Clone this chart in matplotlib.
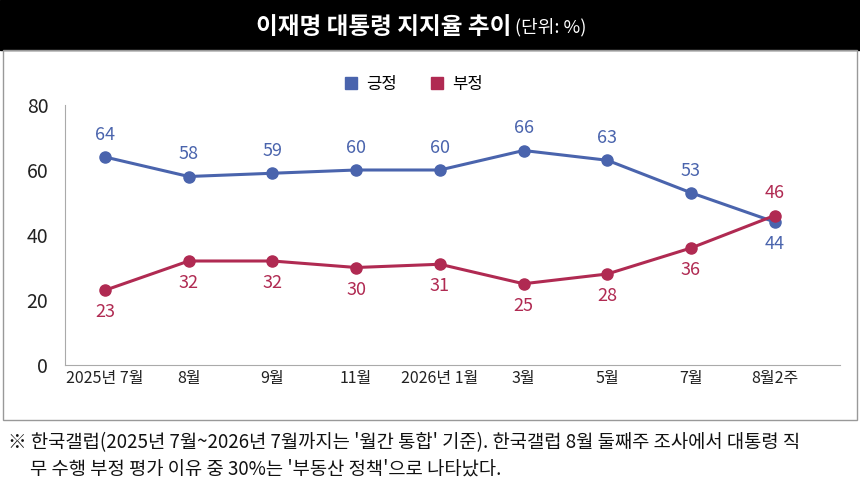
import matplotlib
matplotlib.use("Agg")
import matplotlib.pyplot as plt
from matplotlib.patches import Rectangle

plt.rcParams['font.family'] = ['Noto Sans CJK KR', 'DejaVu Sans']

labels = ["2025년 7월", "8월", "9월", "11월", "2026년 1월", "3월", "5월", "7월", "8월2주"]
pos = [64, 58, 59, 60, 60, 66, 63, 53, 44]
neg = [23, 32, 32, 30, 31, 25, 28, 36, 46]

blue = "#4a64ad"
red = "#b02a52"

fig = plt.figure(figsize=(8.6, 4.88), dpi=100)

# title bar
fig.patches.append(Rectangle((0, 1 - 50/488), 1, 50/488, transform=fig.transFigure,
                             color="black", zorder=0))
fig.text(511/860, 1 - 27/488, "이재명 대통령 지지율 추이", color="white", fontsize=17,
         fontweight="bold", ha="right", va="center")
fig.text(515/860, 1 - 27/488, "(단위: %)", color="white", fontsize=13,
         ha="left", va="center")
# frame
fig.patches.append(Rectangle((3/860, 1 - 420/488), 854/860, 370/488, transform=fig.transFigure,
                             fill=False, edgecolor="#999999", lw=1))

ax = fig.add_axes([65/860, 1 - 365/488, 775/860, 260/488])
x = list(range(len(labels)))
ax.plot(x, pos, color=blue, lw=2.2, marker="o", ms=8, label="긍정", zorder=3)
ax.plot(x, neg, color=red, lw=2.2, marker="o", ms=8, label="부정", zorder=3)

for i in x:
    up, dn = 16, -16
    if i == len(x) - 1:
        ax.annotate(str(pos[i]), (i, pos[i]), xytext=(0, dn), textcoords="offset points",
                    ha="center", va="center", color=blue, fontsize=13)
        ax.annotate(str(neg[i]), (i, neg[i]), xytext=(0, up), textcoords="offset points",
                    ha="center", va="center", color=red, fontsize=13)
    else:
        ax.annotate(str(pos[i]), (i, pos[i]), xytext=(0, up), textcoords="offset points",
                    ha="center", va="center", color=blue, fontsize=13)
        ax.annotate(str(neg[i]), (i, neg[i]), xytext=(0, dn), textcoords="offset points",
                    ha="center", va="center", color=red, fontsize=13)

ax.set_xlim(-0.478, 8.78)
ax.set_ylim(0, 80)
ax.set_yticks([0, 20, 40, 60, 80])
ax.set_xticks(x)
ax.set_xticklabels(labels)
ax.tick_params(axis="both", length=0, labelsize=11.5, colors="#222222")
ax.tick_params(axis="y", labelsize=14, pad=12)
for s in ["top", "right"]:
    ax.spines[s].set_visible(False)
for s in ["left", "bottom"]:
    ax.spines[s].set_color("#aaaaaa")

ax.legend(loc="upper center", bbox_to_anchor=(0.45, 1.17), ncol=2, frameon=False,
          fontsize=12, handlelength=0.8, columnspacing=2.0, handletextpad=0.5)
leg = ax.get_legend()
for h in leg.legend_handles:
    h.set_marker("s")
    h.set_linestyle("")

fig.text(8/860, 1 - 443/488,
         "※ 한국갤럽(2025년 7월~2026년 7월까지는 '월간 통합' 기준). 한국갤럽 8월 둘째주 조사에서 대통령 직",
         fontsize=13.5, va="center", color="#111111")
fig.text(30/860, 1 - 469/488,
         "무 수행 부정 평가 이유 중 30%는 '부동산 정책'으로 나타났다.",
         fontsize=13.5, va="center", color="#111111")

fig.savefig("out.png", dpi=100)
